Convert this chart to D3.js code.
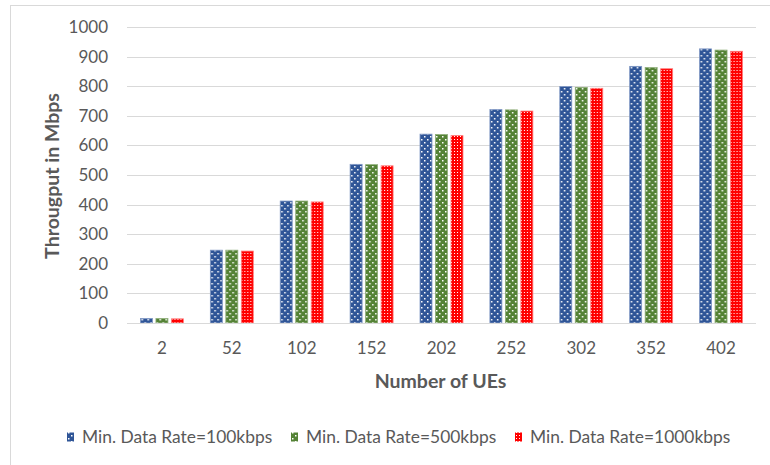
<!DOCTYPE html>
<html>
<head>
<meta charset="utf-8">
<script src="https://cdn.jsdelivr.net/npm/d3@7"></script>
<style>
  html, body { margin: 0; padding: 0; background: #ffffff; }
  svg { display: block; }
</style>
</head>
<body>
<svg id="chart" width="770" height="465"></svg>
<script>
// Number of UEs on the x axis
const categories = ["2", "52", "102", "152", "202", "252", "302", "352", "402"];
// Throughput (Mbps) for each minimum data rate
const rate100kbps  = [15, 246, 412, 536, 638, 721, 799, 867, 926];
const rate500kbps  = [15, 246, 412, 535, 637, 720, 796, 863, 922];
const rate1000kbps = [14, 243, 409, 531, 633, 716, 793, 859, 918];
const seriesNames = ["Min. Data Rate=100kbps", "Min. Data Rate=500kbps", "Min. Data Rate=1000kbps"];
const yTicks = [0, 100, 200, 300, 400, 500, 600, 700, 800, 900, 1000];

const series = [rate100kbps, rate500kbps, rate1000kbps];
const colors = ["#2F5597", "#548235", "#FF0000"];
const edgeColors = ["#7f97c4", "#8fae7a", "#ff7a7a"];
const textColor = "#595959";
const fontFamily = "Lato, 'Open Sans', sans-serif";

const svg = d3.select("#chart");

// Patterned fills: white dots on blue/green, a fine white grid on red
const defs = svg.append("defs");
function dotPattern(id, color) {
  const p = defs.append("pattern").attr("id", id)
    .attr("patternUnits", "userSpaceOnUse").attr("width", 6).attr("height", 6);
  p.append("rect").attr("width", 6).attr("height", 6).attr("fill", color);
  p.append("rect").attr("x", 1).attr("y", 1).attr("width", 1.5).attr("height", 1.5).attr("fill", "#fff");
  p.append("rect").attr("x", 4).attr("y", 4).attr("width", 1.5).attr("height", 1.5).attr("fill", "#fff");
}
dotPattern("pat0", colors[0]);
dotPattern("pat1", colors[1]);
(function gridPattern() {
  const p = defs.append("pattern").attr("id", "pat2")
    .attr("patternUnits", "userSpaceOnUse").attr("width", 3).attr("height", 3);
  p.append("rect").attr("width", 3).attr("height", 3).attr("fill", colors[2]);
  p.append("rect").attr("x", 1).attr("y", 1).attr("width", 1).attr("height", 1).attr("fill", "#fff");
})();

// Outer chart frame
svg.append("rect")
  .attr("x", 10.5).attr("y", 5.5).attr("width", 800).attr("height", 500)
  .attr("fill", "none").attr("stroke", "#D9D9D9").attr("stroke-width", 1);

const plot = { left: 127, right: 756, top: 27, bottom: 323 };

const x0 = d3.scaleBand()
  .domain(categories)
  .range([plot.left, plot.right])
  .paddingInner(0.385)
  .paddingOuter(0.1925);

const x1 = d3.scaleBand()
  .domain([0, 1, 2])
  .range([0, x0.bandwidth()])
  .paddingInner(0.226)
  .paddingOuter(0);

const y = d3.scaleLinear()
  .domain([0, 1000])
  .range([plot.bottom, plot.top]);

// Horizontal gridlines
svg.append("g")
  .selectAll("line")
  .data(yTicks.filter(t => t > 0))
  .join("line")
  .attr("x1", plot.left).attr("x2", plot.right)
  .attr("y1", d => Math.round(y(d)) + 0.5).attr("y2", d => Math.round(y(d)) + 0.5)
  .attr("stroke", "#D9D9D9").attr("stroke-width", 1);

// Y axis labels
const yAxis = d3.axisLeft(y).tickValues(yTicks).tickSize(0).tickPadding(0).tickFormat(d3.format("d"));
const gy = svg.append("g").attr("transform", `translate(108,0)`).call(yAxis);
gy.select(".domain").remove();
gy.selectAll("text")
  .attr("fill", textColor)
  .style("font-family", fontFamily)
  .style("font-size", "17px");

// Bars
const groups = svg.append("g")
  .selectAll("g")
  .data(categories)
  .join("g")
  .attr("transform", d => `translate(${x0(d)},0)`);

groups.selectAll("rect")
  .data((d, i) => series.map((s, k) => ({ k, v: s[i] })))
  .join("rect")
  .attr("x", d => x1(d.k))
  .attr("width", x1.bandwidth())
  .attr("y", d => y(d.v))
  .attr("height", d => y(0) - y(d.v))
  .attr("fill", d => `url(#pat${d.k})`)
  .attr("stroke", d => edgeColors[d.k])
  .attr("stroke-width", 0.8);

// X axis baseline and labels
const xAxis = d3.axisBottom(x0).tickSize(0).tickPadding(0);
const gx = svg.append("g").attr("transform", `translate(0,${plot.bottom})`).call(xAxis);
gx.select(".domain")
  .attr("d", `M${plot.left},0.5H${plot.right}`)
  .attr("stroke", "#D9D9D9");
gx.selectAll("text")
  .attr("y", 19)
  .attr("fill", textColor)
  .style("font-family", fontFamily)
  .style("font-size", "17px");

// Axis titles
svg.append("text")
  .attr("x", (plot.left + plot.right) / 2 - 1)
  .attr("y", 388)
  .attr("text-anchor", "middle")
  .attr("fill", textColor)
  .style("font-family", fontFamily)
  .style("font-size", "19.5px")
  .style("font-weight", "bold")
  .text("Number of UEs");

svg.append("text")
  .attr("transform", `translate(59,${(90 + 262) / 2}) rotate(-90)`)
  .attr("text-anchor", "middle")
  .attr("fill", textColor)
  .style("font-family", fontFamily)
  .style("font-size", "19.5px")
  .style("font-weight", "bold")
  .text("Througput in Mbps");

// Legend
const legendX = [67, 291, 515];
const legend = svg.append("g")
  .selectAll("g")
  .data(seriesNames)
  .join("g")
  .attr("transform", (d, i) => `translate(${legendX[i]},437)`);

legend.append("rect")
  .attr("x", 0).attr("y", -4.5)
  .attr("width", 7).attr("height", 9)
  .attr("fill", (d, i) => `url(#pat${i})`);

legend.append("text")
  .attr("x", 15)
  .attr("y", 0)
  .attr("dy", "0.35em")
  .attr("fill", textColor)
  .style("font-family", fontFamily)
  .style("font-size", "17.4px")
  .text(d => d);
</script>
</body>
</html>
